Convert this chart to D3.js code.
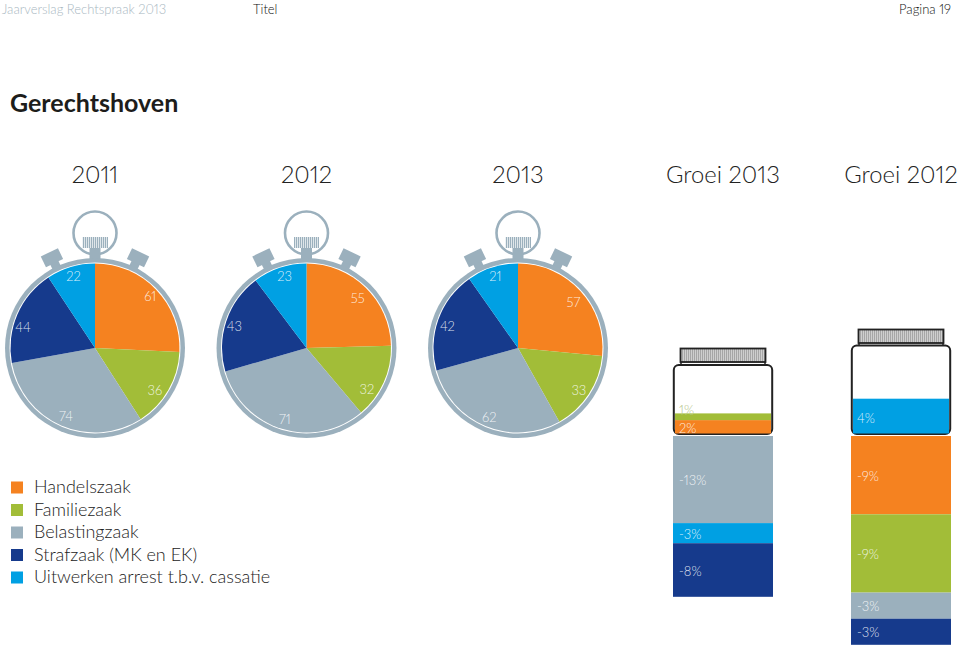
<!DOCTYPE html>
<html><head><meta charset="utf-8">
<script src="https://cdn.jsdelivr.net/npm/d3@7"></script>
<style>html,body{margin:0;padding:0;background:#fff}svg{display:block;font-family:Lato,"Open Sans",sans-serif;font-variant-numeric:proportional-nums;font-feature-settings:"pnum" 1}</style>
</head><body><div id="c"></div>
<script>
const categories=["Handelszaak","Familiezaak","Belastingzaak","Strafzaak (MK en EK)","Uitwerken arrest t.b.v. cassatie"];
const colors=["#f58220","#a2bd38","#9bb0bd","#163a8c","#00a0e3"];
const years=["2011","2012","2013"];
const values2011=[61,36,74,44,22];
const values2012=[55,32,71,43,23];
const values2013=[57,33,62,42,21];
const growth2013Up=[{cat:0,v:2},{cat:1,v:1}];
const growth2013Down=[{cat:2,v:-13},{cat:4,v:-3},{cat:3,v:-8}];
const growth2012Up=[{cat:4,v:4}];
const growth2012Down=[{cat:0,v:-9},{cat:1,v:-9},{cat:2,v:-3},{cat:3,v:-3}];
const headers=["2011","2012","2013","Groei 2013","Groei 2012"];

const W=960,H=651;
const svg=d3.select("#c").append("svg").attr("width",W).attr("height",H).attr("viewBox",[0,0,W,H]);
const defs=svg.append("defs");
const p=defs.append("pattern").attr("id","cap").attr("patternUnits","userSpaceOnUse").attr("width",2).attr("height",4);
p.append("rect").attr("width",2).attr("height",4).attr("fill","#cfcfcf");
p.append("rect").attr("width",1).attr("height",4).attr("fill","#a6a6a6");

function txt(x,y,s,size,fill,opts={}){
  return svg.append("text").attr("x",x).attr("y",y).attr("font-size",size).attr("fill",fill)
    .attr("text-anchor",opts.anchor||"start").attr("font-weight",opts.weight||400).text(s);
}
txt(2,14,"Jaarverslag Rechtspraak 2013",13,"#a9b8c2",{weight:300});
txt(253,14,"Titel",13,"#111",{weight:300});
txt(951,14,"Pagina 19",13,"#111",{anchor:"end",weight:300});
txt(10,112,"Gerechtshoven",25,"#1d1d1b",{weight:700});

const headerX=d3.scalePoint().domain(years).range([95,518]);
const hx=[headerX("2011"),headerX("2012"),headerX("2013"),723,901];
headers.forEach((h,i)=>txt(hx[i],183,h,23.8,"#222",{anchor:"middle",weight:300}));

// Stopwatches
const grey="#9bb0bd";
const pie=d3.pie().sort(null).value(d=>d);
const R=84.5;
const arc=d3.arc().innerRadius(0).outerRadius(R);
const labelArc=d3.arc().innerRadius(75).outerRadius(75);
const labelNudge=[
  [[1,0],[-5,5],[1,0],[-3,9],[0,0]],
  [[-1,4],[-8,11],[0,0],[-1,2],[2,0]],
  [[0,5],[-2,2],[0,0],[0,4],[0,0]]
];
[values2011,values2012,values2013].forEach((vals,i)=>{
  const cx=headerX(years[i]);
  const snap=0.5-(cx-Math.floor(cx));
  const g=svg.append("g").attr("transform",`translate(${cx},348)`);
  g.append("circle").attr("cy",-115).attr("r",21.5).attr("fill","none").attr("stroke",grey).attr("stroke-width",2.6);
  g.append("rect").attr("x",-12.5).attr("y",-111).attr("width",25).attr("height",11).attr("fill","#dfe6ea");
  g.selectAll("line.k").data(d3.range(-12,13,2)).join("line").attr("class","k")
    .attr("x1",d=>d+snap).attr("x2",d=>d+snap).attr("y1",-111).attr("y2",-100).attr("stroke",grey).attr("stroke-width",1);
  g.append("rect").attr("x",-5.5).attr("y",-100).attr("width",11).attr("height",12).attr("fill",grey);
  [-1,1].forEach(s=>{
    const b=g.append("g").attr("transform",`rotate(${s*25.5})`);
    b.append("rect").attr("x",-4.5).attr("y",-100).attr("width",9).attr("height",14).attr("fill",grey);
    b.append("rect").attr("x",-9.5).attr("y",-106).attr("width",19).attr("height",12).attr("fill",grey);
  });
  g.append("circle").attr("r",90).attr("fill",grey);
  g.append("circle").attr("r",85.5).attr("fill","#fff");
  g.selectAll("path.s").data(pie(vals)).join("path").attr("class","s").attr("d",arc).attr("fill",(d,j)=>colors[j]);
  g.selectAll("text").data(pie(vals)).join("text")
    .attr("transform",(d,j)=>{const c=labelArc.centroid(d),n=labelNudge[i][j];return `translate(${c[0]+n[0]},${c[1]+n[1]})`;})
    .attr("text-anchor","middle").attr("dy","0.35em").attr("font-size",13).attr("font-weight",300)
    .attr("fill","#fff").attr("fill-opacity",0.85).text(d=>d.value);
});

// Legend
const legendY=d3.scalePoint().domain(categories).range([487.5,577.5]);
categories.forEach((c,i)=>{
  svg.append("rect").attr("x",11).attr("y",legendY(c)-6).attr("width",12).attr("height",12).attr("fill",colors[i]);
  txt(34,legendY(c)+5.5,c,18,"#222",{weight:300});
});

// Jars
function jar(x0,bodyTop,capTop,pxPerPct,ups,downs){
  const w=100,upBase=433.5,downBase=436;
  const yU=d3.scaleLinear().domain([0,1]).range([upBase,upBase-pxPerPct]);
  const yD=d3.scaleLinear().domain([0,-1]).range([downBase,downBase+pxPerPct]);
  const g=svg.append("g");
  g.append("rect").attr("x",x0+8).attr("y",capTop+13).attr("width",w-16).attr("height",bodyTop-capTop-12).attr("fill","#fff").attr("stroke","#222").attr("stroke-width",1.5);
  g.append("rect").attr("x",x0+7.5).attr("y",capTop).attr("width",w-15).attr("height",13.5).attr("fill","url(#cap)").attr("stroke","#222").attr("stroke-width",1.8);
  g.append("rect").attr("x",x0+0.8).attr("y",bodyTop).attr("width",w-1.6).attr("height",434-bodyTop).attr("rx",5).attr("fill","#fff").attr("stroke","#222").attr("stroke-width",2);
  let cum=0;
  ups.forEach(d=>{
    const y1=yU(cum),y2=yU(cum+d.v);cum+=d.v;
    g.append("rect").attr("x",x0+2).attr("y",y2).attr("width",w-4).attr("height",y1-y2).attr("fill",colors[d.cat]);
    const faint=d.v===1;
    g.append("text").attr("x",x0+6).attr("y",(y1+y2)/2+2+(faint?-8:0)).attr("dy","0.35em").attr("font-size",13).attr("font-weight",300)
      .attr("fill",faint?"#b5c58a":"#fff").attr("fill-opacity",faint?1:0.85).text(d.v+"%");
  });
  cum=0;
  downs.forEach(d=>{
    const y1=yD(cum),y2=yD(cum+d.v);cum+=d.v;
    g.append("rect").attr("x",x0).attr("y",y1).attr("width",w).attr("height",y2-y1).attr("fill",colors[d.cat]);
    g.append("text").attr("x",x0+6).attr("y",(y1+y2)/2+1).attr("dy","0.35em").attr("font-size",13).attr("font-weight",300)
      .attr("fill","#fff").attr("fill-opacity",0.85).text(d.v+"%");
  });
}
jar(673,365,348.5,6.7,growth2013Up,growth2013Down);
jar(851,345.5,329.5,8.7,growth2012Up,growth2012Down);
</script></body></html>
